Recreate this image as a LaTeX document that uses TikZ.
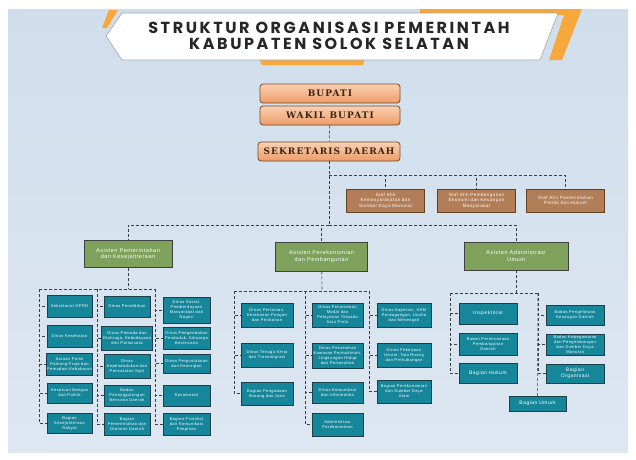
\documentclass[tikz,border=0pt]{standalone}
\usepackage{fontspec}
\usetikzlibrary{positioning}
\newfontfamily\judulfont[LetterSpace=16]{Poppins}
\newfontfamily\pimpfont[LetterSpace=12]{DejaVu Serif}
\newfontfamily\opdfont[LetterSpace=10]{Liberation Sans}
\definecolor{latar}{HTML}{D0DEEC}
\definecolor{latarmuda}{HTML}{DDE7F1}
\definecolor{oranye}{HTML}{F6A83A}
\definecolor{garis}{HTML}{363E48}
\definecolor{toska}{HTML}{16879B}
\definecolor{toskagelap}{HTML}{1E3F4A}
\definecolor{hijau}{HTML}{7EA15C}
\definecolor{coklat}{HTML}{B27E58}
\definecolor{peach}{HTML}{FAD0B2}
\definecolor{peachtua}{HTML}{EE9C68}
\tikzstyle{pimpinan} = [rectangle, rounded corners=3pt, draw=brown!60!black, line width=0.8pt, top color=peach, bottom color=peachtua, minimum width=140, minimum height=19, inner sep=0pt, font=\pimpfont\bfseries\fontsize{9}{10}\selectfont, text=brown!30!black]
\tikzstyle{staf} = [rectangle, draw=brown!50!black, fill=coklat, line width=0.8pt, minimum width=78, minimum height=23, inner sep=1pt, align=center, text=white, font=\opdfont\fontsize{4.5}{5.5}\selectfont]
\tikzstyle{asisten} = [rectangle, draw=black!75, fill=hijau, line width=0.8pt, minimum height=27, inner sep=1pt, align=center, text=white, font=\opdfont\fontsize{5.5}{6.5}\selectfont]
\tikzstyle{opd} = [rectangle, draw=toskagelap, fill=toska, line width=0.8pt, inner sep=1pt, align=center, text=white, font=\opdfont\fontsize{4}{5}\selectfont]
\tikzstyle{link} = [densely dashed, draw=garis, line width=0.6pt]

\begin{document}
\begin{tikzpicture}[x=1pt, y=-1pt]
  \useasboundingbox (0,0) rectangle (636,459);
  % latar
  \fill[white] (0,0) rectangle (636,459);
  \fill[top color=latar, bottom color=latarmuda] (8,9) rectangle (628,452);

  % judul
  \fill[oranye] (420,9) -- (582,9) -- (562,60) -- (549,60) -- (564,15) -- (420,15) -- cycle;
  \fill[oranye] (258,57) -- (365,57) -- (363,65) -- (262,65) -- cycle;
  \fill[oranye] (109,10) -- (118,10) -- (107,28) -- (102,28) -- cycle;
  \filldraw[fill=white, draw=black!35, line width=0.6pt] (122,13) -- (558,13) -- (540,60) -- (122,60) -- (106,36) -- cycle;
  \node[align=center, font=\judulfont\bfseries\fontsize{16}{16.5}\selectfont, text=black!85] (judul) at (329,36) {STRUKTUR ORGANISASI PEMERINTAH\\KABUPATEN SOLOK SELATAN};

  % pimpinan
  \node[pimpinan] (bupati) at (330,93.5) {BUPATI};
  \node[pimpinan] (wakil) at (330,115.5) {WAKIL BUPATI};
  \node[pimpinan, minimum width=142] (sekda) at (329,151.5) {SEKRETARIS DAERAH};

  % staf ahli
  \node[staf] (staf1) at (385.5,200.5) {Staf Ahli\\Kemasyarakatan dan\\Sumber Daya Manusia};
  \node[staf] (staf2) at (476.5,200.5) {Staf Ahli Pembangunan\\Ekonomi dan Keuangan\\Masyarakat};
  \node[staf] (staf3) at (565.5,200.5) {Staf Ahli Pemerintahan\\Politik dan Hukum};

  % asisten
  \node[asisten, minimum width=88] (asL) at (128,254) {Asisten Pemerintahan\\dan Kesejahteraan};
  \node[asisten, minimum width=92, minimum height=29] (asM) at (321.5,256.5) {Asisten Perekonomian\\dan Pembangunan};
  \node[asisten, minimum width=104, minimum height=28] (asR) at (516,256) {Asisten Administrasi\\Umum};

  % kolom A
  \node[opd, minimum width=45, minimum height=22] (a1) at (69.5,306) {Sekretariat DPRD};
  \node[opd, minimum width=45, minimum height=22] (a2) at (69.5,336) {Dinas Kesehatan};
  \node[opd, minimum width=45, minimum height=22] (a3) at (69.5,364) {Satuan Polisi\\Pamong Praja dan\\Pemadam Kebakaran};
  \node[opd, minimum width=45, minimum height=20] (a4) at (69.5,393) {Kesatuan Bangsa\\dan Politik};
  \node[opd, minimum width=45, minimum height=20] (a5) at (69.5,423) {Bagian\\Kesejahteraan\\Rakyat};
  % kolom B
  \node[opd, minimum width=46, minimum height=21] (b1) at (127,306.5) {Dinas Pendidikan};
  \node[opd, minimum width=46, minimum height=24] (b2) at (127,338) {Dinas Pemuda dan\\Olahraga, Kebudayaan\\dan Pariwisata};
  \node[opd, minimum width=46, minimum height=24] (b3) at (127,366) {Dinas\\Kependudukan dan\\Pencatatan Sipil};
  \node[opd, minimum width=46, minimum height=21] (b4) at (127,395.5) {Badan\\Penanggulangan\\Bencana Daerah};
  \node[opd, minimum width=46, minimum height=22] (b5) at (127,424) {Bagian\\Pemerintahan dan\\Otonomi Daerah};
  % kolom C
  \node[opd, minimum width=47, minimum height=26] (c1) at (186.5,310) {Dinas Sosial,\\Pemberdayaan\\Masyarakat dan\\Nagari};
  \node[opd, minimum width=47, minimum height=22] (c2) at (186.5,338) {Dinas Pengendalian\\Penduduk, Keluarga\\Berencana};
  \node[opd, minimum width=47, minimum height=19] (c3) at (186.5,363.5) {Dinas Perpustakaan\\dan Kearsipan};
  \node[opd, minimum width=47, minimum height=21] (c4) at (186.5,395.5) {Kecamatan};
  \node[opd, minimum width=47, minimum height=22] (c5) at (186.5,424) {Bagian Protokol\\dan Komunikasi\\Pimpinan};

  % kolom D
  \node[opd, minimum width=52, minimum height=24] (d1) at (267,315) {Dinas Pertanian,\\Ketahanan Pangan\\dan Perikanan};
  \node[opd, minimum width=52, minimum height=24] (d2) at (267,355) {Dinas Tenaga Kerja\\dan Transmigrasi};
  \node[opd, minimum width=52, minimum height=23] (d3) at (267,393.5) {Bagian Pengadaan\\Barang dan Jasa};
  % kolom E
  \node[opd, minimum width=51, minimum height=24] (e1) at (337.5,315) {Dinas Penanaman\\Modal dan\\Pelayanan Terpadu\\Satu Pintu};
  \node[opd, minimum width=51, minimum height=25] (e2) at (337.5,355.5) {Dinas Perumahan\\Kawasan Permukiman,\\Lingkungan Hidup\\dan Pertanahan};
  \node[opd, minimum width=51, minimum height=21] (e3) at (337.5,392.5) {Dinas Komunikasi\\dan Informatika};
  \node[opd, minimum width=51, minimum height=23] (e4) at (337.5,424.5) {Administrasi\\Perekonomian};
  % kolom F
  \node[opd, minimum width=54, minimum height=24] (f1) at (404,315) {Dinas Koperasi, UKM\\Perdagangan, Usaha\\dan Menengah};
  \node[opd, minimum width=54, minimum height=24] (f2) at (404,355) {Dinas Pekerjaan\\Umum, Tata Ruang\\dan Perhubungan};
  \node[opd, minimum width=54, minimum height=23] (f3) at (404,391.5) {Bagian Perekonomian\\dan Sumber Daya\\Alam};

  % kolom G
  \node[opd, minimum width=58, minimum height=21, font=\opdfont\fontsize{5}{6}\selectfont] (g1) at (488,313.5) {Inspektorat};
  \node[opd, minimum width=58, minimum height=22] (g2) at (488,344) {Badan Perencanaan\\Pembangunan\\Daerah};
  \node[opd, minimum width=58, minimum height=20, font=\opdfont\fontsize{5}{6}\selectfont] (g3) at (488,373) {Bagian Hukum};
  % kolom H
  \node[opd, minimum width=58, minimum height=20] (h1) at (575,315) {Badan Pengelolaan\\Keuangan Daerah};
  \node[opd, minimum width=58, minimum height=21] (h2) at (575,344.5) {Badan Kepegawaian\\dan Pengembangan\\dan Sumber Daya\\Manusia};
  \node[opd, minimum width=58, minimum height=19, font=\opdfont\fontsize{5}{6}\selectfont] (h3) at (575,373.5) {Bagian\\Organisasi};
  \node[opd, minimum width=57, minimum height=15, font=\opdfont\fontsize{5}{6}\selectfont] (umum) at (537.5,403.5) {Bagian Umum};

  % garis pimpinan
  \coordinate (busStaf) at (329,175);
  \coordinate (busAsisten) at (329,225);
  \draw[link] (wakil) -- (sekda);
  \draw[link] (sekda) -- (busAsisten);
  \draw[link] (busStaf) -| (staf1.north);
  \draw[link] (busStaf) -| (staf2.north);
  \draw[link] (busStaf) -| (staf3.north);
  \draw[link] (busAsisten) -| (asL.north);
  \draw[link] (busAsisten) -| (asM.north);
  \draw[link] (busAsisten) -| (asR.north);

  % garis asisten pemerintahan
  \coordinate (busL) at (128,289);
  \coordinate (lineA) at (39,289);
  \coordinate (lineC) at (155,289);
  \draw[link] (asL) -- (busL);
  \draw[link] (lineA) -- (lineC);
  \foreach \n in {a1,a2,a3,a4,a5} \draw[link] (lineA) |- (\n.west);
  \foreach \n in {b1,b2,b3,b4,b5} \draw[link] (97,289) |- (\n.west);
  \foreach \n in {c1,c2,c3,c4,c5} \draw[link] (lineC) |- (\n.west);

  % garis asisten perekonomian
  \coordinate (busM) at (322,291);
  \coordinate (lineD) at (234,291);
  \coordinate (lineF) at (369,291);
  \draw[link] (asM) -- (busM);
  \draw[link] (lineD) -- (lineF);
  \foreach \n in {d1,d2,d3} \draw[link] (lineD) |- (\n.west);
  \foreach \n in {e1,e2,e3,e4} \draw[link] (305,291) |- (\n.west);
  \foreach \n in {f1,f2,f3} \draw[link] (lineF) |- (\n.west);

  % garis asisten administrasi
  \coordinate (busR) at (516,293);
  \coordinate (lineG) at (450,293);
  \coordinate (lineH) at (538,293);
  \draw[link] (asR) -- (busR);
  \draw[link] (lineG) -- (lineH);
  \foreach \n in {g1,g2,g3} \draw[link] (lineG) |- (\n.west);
  \foreach \n in {h1,h2,h3} \draw[link] (lineH) |- (\n.west);
  \draw[link] (lineH) -- (umum);
\end{tikzpicture}
\end{document}
